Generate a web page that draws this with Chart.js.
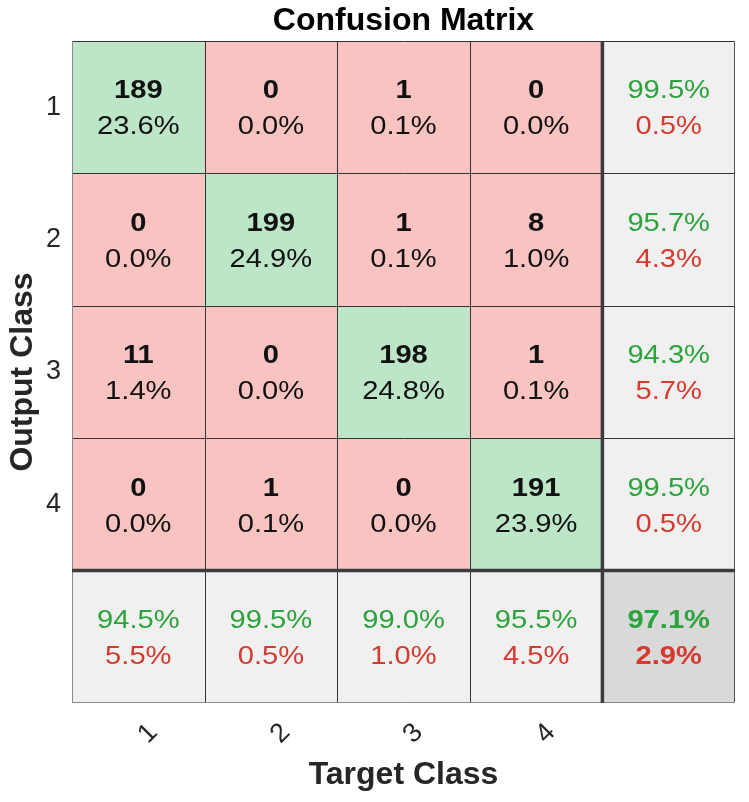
<html>
<head>
<meta charset="utf-8">
<script src="https://cdn.jsdelivr.net/npm/chart.js"></script>
<style>
    body { margin: 0; background: #fff; overflow: hidden; }
    #wrap { width: 749px; height: 802px; }
</style>
</head>
<body>
<div id="wrap"><canvas id="chart"></canvas></div>
<script>
    // classes (target = columns, output = rows)
    const classes = ['1', '2', '3', '4'];

    // counts per output class (row) and target class (column)
    const counts = [
        [189, 0, 1, 0],
        [0, 199, 1, 8],
        [11, 0, 198, 1],
        [0, 1, 0, 191]
    ];
    const cellPct = [
        [23.6, 0.0, 0.1, 0.0],
        [0.0, 24.9, 0.1, 1.0],
        [1.4, 0.0, 24.8, 0.1],
        [0.0, 0.1, 0.0, 23.9]
    ];

    // right column (per output class) and bottom row (per target class)
    const rowGood = [99.5, 95.7, 94.3, 99.5];
    const rowBad = [0.5, 4.3, 5.7, 0.5];
    const colGood = [94.5, 99.5, 99.0, 95.5];
    const colBad = [5.5, 0.5, 1.0, 4.5];
    const totalGood = 97.1;
    const totalBad = 2.9;

    const GREEN_CELL = '#bde5c7';
    const RED_CELL = '#f8c3c1';
    const SUM_CELL = '#f0f0f0';
    const TOTAL_CELL = '#d9d9d9';
    const GREEN_TXT = '#2ca33c';
    const RED_TXT = '#d6392e';
    const FONT = '"Liberation Sans", Arial, sans-serif';

    const n = classes.length;
    const xLabels = classes.concat(['']);

    function cellColor(r, c) {
        if (r == n && c == n) return TOTAL_CELL;
        if (r == n || c == n) return SUM_CELL;
        return r == c ? GREEN_CELL : RED_CELL;
    }

    const datasets = [];
    for (let r = 0; r <= n; r++) {
        const data = [];
        const colors = [];
        for (let c = 0; c <= n; c++) {
            data.push([r, r + 1]);
            colors.push(cellColor(r, c));
        }
        datasets.push({
            data: data,
            backgroundColor: colors,
            borderWidth: 0,
            grouped: false,
            categoryPercentage: 1,
            barPercentage: 1
        });
    }

    function cellLines(r, c) {
        if (r < n && c < n) {
            return [
                { t: String(counts[r][c]), color: '#111', bold: true },
                { t: cellPct[r][c].toFixed(1) + '%', color: '#111', bold: false }
            ];
        }
        if (r < n) {
            return [
                { t: rowGood[r].toFixed(1) + '%', color: GREEN_TXT, bold: false },
                { t: rowBad[r].toFixed(1) + '%', color: RED_TXT, bold: false }
            ];
        }
        if (c < n) {
            return [
                { t: colGood[c].toFixed(1) + '%', color: GREEN_TXT, bold: false },
                { t: colBad[c].toFixed(1) + '%', color: RED_TXT, bold: false }
            ];
        }
        return [
            { t: totalGood.toFixed(1) + '%', color: GREEN_TXT, bold: true },
            { t: totalBad.toFixed(1) + '%', color: RED_TXT, bold: true }
        ];
    }

    const matrixPlugin = {
        id: 'matrix',
        afterDatasetsDraw(chart) {
            const ctx = chart.ctx;
            const area = chart.chartArea;
            const xs = chart.scales.x;
            const ys = chart.scales.y;

            // cell borders
            ctx.save();
            ctx.lineWidth = 1;
            ctx.strokeStyle = '#333';
            for (let i = 1; i <= n; i++) {
                const px = Math.round((xs.getPixelForValue(i - 1) + xs.getPixelForValue(i)) / 2) + 0.5;
                const py = Math.round(ys.getPixelForValue(i)) + 0.5;
                ctx.beginPath(); ctx.moveTo(px, area.top); ctx.lineTo(px, area.bottom); ctx.stroke();
                ctx.beginPath(); ctx.moveTo(area.left, py); ctx.lineTo(area.right, py); ctx.stroke();
            }
            // outer frame
            const L = Math.round(area.left) + 0.5, R = Math.round(area.right) - 0.5;
            const T = Math.round(area.top) + 0.5, B = Math.round(area.bottom) - 0.5;
            ctx.strokeStyle = '#333';
            ctx.beginPath(); ctx.moveTo(L, T); ctx.lineTo(R, T); ctx.stroke();
            ctx.strokeStyle = '#555';
            ctx.beginPath(); ctx.moveTo(R, T); ctx.lineTo(R, B); ctx.stroke();
            ctx.strokeStyle = '#8a8a8a';
            ctx.beginPath(); ctx.moveTo(L, T); ctx.lineTo(L, B); ctx.lineTo(R, B); ctx.stroke();

            // thick separators before the summary row / column
            ctx.lineWidth = 3.5;
            ctx.strokeStyle = '#3c3c3c';
            const sx = (xs.getPixelForValue(n - 1) + xs.getPixelForValue(n)) / 2;
            const sy = ys.getPixelForValue(n);
            ctx.beginPath(); ctx.moveTo(sx, area.top); ctx.lineTo(sx, area.bottom); ctx.stroke();
            ctx.beginPath(); ctx.moveTo(area.left, sy); ctx.lineTo(area.right, sy); ctx.stroke();

            // texts
            ctx.textAlign = 'center';
            ctx.textBaseline = 'middle';
            for (let r = 0; r <= n; r++) {
                const meta = chart.getDatasetMeta(r);
                for (let c = 0; c <= n; c++) {
                    const bar = meta.data[c];
                    const cx = bar.x;
                    const cy = (bar.y + bar.base) / 2;
                    const lines = cellLines(r, c);
                    lines.forEach(function (ln, k) {
                        ctx.save();
                        ctx.translate(cx, cy + (k == 0 ? -16 : 20));
                        ctx.scale(1.12, 1);
                        ctx.font = (ln.bold ? 'bold ' : '') + '26px ' + FONT;
                        ctx.fillStyle = ln.color;
                        ctx.fillText(ln.t, 0, 0);
                        ctx.restore();
                    });
                }
            }
            ctx.restore();
        }
    };

    new Chart(document.getElementById('chart'), {
        type: 'bar',
        data: { labels: xLabels, datasets: datasets },
        plugins: [matrixPlugin],
        options: {
            responsive: true,
            maintainAspectRatio: false,
            animation: false,
            layout: { padding: { left: 0, right: 14, top: 0, bottom: 0 } },
            plugins: { legend: { display: false }, tooltip: { enabled: false } },
            scales: {
                x: {
                    type: 'category',
                    position: 'bottom',
                    grid: { display: false, drawTicks: false },
                    border: { display: false },
                    ticks: {
                        autoSkip: false,
                        minRotation: 45,
                        maxRotation: 45,
                        padding: 14,
                        labelOffset: 15,
                        color: '#262626',
                        font: { family: FONT, size: 27 }
                    },
                    title: {
                        display: true,
                        text: 'Target Class',
                        color: '#262626',
                        padding: { top: 0, bottom: 8 },
                        font: { family: FONT, size: 32, weight: 'bold', lineHeight: 1.2 }
                    },
                    afterFit(scale) { scale.height = 99; }
                },
                top: {
                    type: 'category',
                    position: 'top',
                    grid: { display: false, drawTicks: false },
                    border: { display: false },
                    ticks: { display: false },
                    title: {
                        display: true,
                        text: 'Confusion Matrix',
                        color: '#000',
                        padding: { top: 2, bottom: 0 },
                        font: { family: FONT, size: 32, weight: 'bold', lineHeight: 1.2 }
                    },
                    afterFit(scale) { scale.height = 41; }
                },
                y: {
                    type: 'linear',
                    min: 0,
                    max: n + 1,
                    reverse: true,
                    grid: { display: false, drawTicks: false },
                    border: { display: false },
                    afterBuildTicks(scale) {
                        scale.ticks = classes.map(function (c, i) { return { value: i + 0.5 }; });
                    },
                    ticks: {
                        padding: 11,
                        color: '#262626',
                        font: { family: FONT, size: 27 },
                        callback: function (v, i) { return classes[i]; }
                    },
                    title: {
                        display: true,
                        text: 'Output Class',
                        color: '#262626',
                        padding: { top: 4, bottom: 0 },
                        font: { family: FONT, size: 32, weight: 'bold', lineHeight: 1.2 }
                    },
                    afterFit(scale) { scale.width = 72; }
                }
            }
        }
    });
</script>
</body>
</html>
